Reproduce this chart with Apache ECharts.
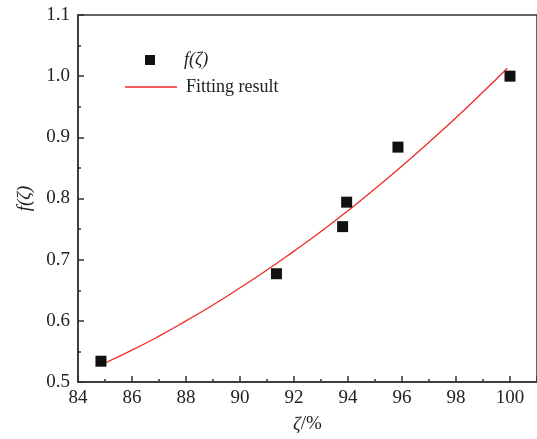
<!DOCTYPE html>
<html>
<head>
<meta charset="utf-8">
<script src="https://cdn.jsdelivr.net/npm/echarts@6/dist/echarts.min.js"></script>
<style>html,body{margin:0;padding:0;background:#fff;}#c{width:537px;height:439px;}</style>
</head>
<body>
<div id="c"></div>
<script>
// measured points f(ζ)
const zetaPts = [84.85, 91.35, 93.8, 93.95, 95.85, 100.0];
const fPts = [0.534, 0.677, 0.754, 0.794, 0.884, 1.0];
// fitting curve
const fitX = [84.9, 86, 87, 88, 89, 90, 91, 92, 93, 94, 95, 96, 97, 98, 99, 99.9];
const fitY = [0.529, 0.552, 0.575, 0.600, 0.626, 0.654, 0.683, 0.714, 0.746, 0.780, 0.816, 0.853, 0.892, 0.932, 0.974, 1.013];
const xTicks = [84, 86, 88, 90, 92, 94, 96, 98, 100];
const yTicks = [0.5, 0.6, 0.7, 0.8, 0.9, 1.0, 1.1];

const FONT = '"Liberation Serif", "DejaVu Serif", serif';
const chart = echarts.init(document.getElementById('c'), null, {renderer: 'canvas'});
chart.setOption({
  animation: false,
  backgroundColor: '#fff',
  grid: {left: 78, top: 15, width: 461, bottom: 56, show: true, borderColor: '#333', borderWidth: 1.5, backgroundColor: 'transparent'},
  xAxis: {
    type: 'value', min: xTicks[0], max: 101, interval: 2,
    name: '{i|ζ}/%', nameLocation: 'middle', nameGap: 33,
    nameTextStyle: {fontFamily: FONT, fontSize: 19, color: '#222', rich: {i: {fontFamily: FONT, fontSize: 19, fontStyle: 'italic', color: '#222'}}},
    axisLine: {lineStyle: {color: '#333', width: 1.5}},
    axisTick: {inside: true, length: 6, lineStyle: {color: '#333', width: 1.5}},
    minorTick: {show: true, splitNumber: 2, length: 3, lineStyle: {color: '#333', width: 1.5}},
    axisLabel: {fontFamily: FONT, fontSize: 19, color: '#222', margin: 7, showMaxLabel: false},
    splitLine: {show: false}
  },
  yAxis: {
    type: 'value', min: yTicks[0], max: yTicks[yTicks.length - 1], interval: 0.1,
    name: 'f(ζ)', nameLocation: 'middle', nameGap: 44, nameRotate: 90,
    nameTextStyle: {fontFamily: FONT, fontSize: 19, fontStyle: 'italic', color: '#222'},
    axisLine: {lineStyle: {color: '#333', width: 1.5}},
    axisTick: {inside: true, length: 6, lineStyle: {color: '#333', width: 1.5}},
    minorTick: {show: true, splitNumber: 2, length: 3, lineStyle: {color: '#333', width: 1.5}},
    axisLabel: {fontFamily: FONT, fontSize: 19, color: '#222', margin: 8, formatter: v => v.toFixed(1)},
    splitLine: {show: false}
  },
  legend: [
    {data: [{name: 'f(ζ)', icon: 'rect'}], left: 140, top: 46, itemWidth: 10, itemHeight: 10,
     itemStyle: {color: '#111', opacity: 1},
     textStyle: {fontFamily: FONT, fontSize: 18, fontStyle: 'italic', color: '#222', padding: [0, 0, 0, 24]}},
    {data: [{name: 'Fitting result', icon: 'rect'}], left: 120, top: 73, itemWidth: 52, itemHeight: 1.5,
     itemStyle: {color: '#ee2b2b'},
     textStyle: {fontFamily: FONT, fontSize: 18, color: '#222', padding: [0, 0, 0, 4]}}
  ],
  series: [
    {name: 'f(ζ)', type: 'scatter', symbol: 'rect', symbolSize: 11, itemStyle: {color: '#111', opacity: 1},
     data: zetaPts.map((x, i) => [x, fPts[i]]), z: 3},
    {name: 'Fitting result', type: 'line', smooth: true, symbol: 'none', showSymbol: false,
     lineStyle: {color: '#ee2b2b', width: 1.3}, itemStyle: {color: '#ee2b2b'},
     data: fitX.map((x, i) => [x, fitY[i]]), z: 2}
  ]
});
</script>
</body>
</html>
